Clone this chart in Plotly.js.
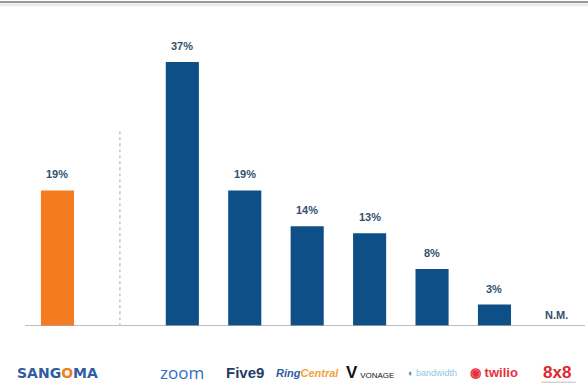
<!DOCTYPE html>
<html>
<head>
<meta charset="utf-8">
<script src="https://cdn.plot.ly/plotly-3.0.1.min.js"></script>
<style>
html,body{margin:0;padding:0;background:#fff;}
#chart{width:588px;height:385px;}
</style>
</head>
<body>
<div id="chart"></div>
<script>
// Data
const companies = ["Sangoma", "Zoom", "Five9", "RingCentral", "Vonage", "Bandwidth", "Twilio", "8x8"];
const positions = [0, 2, 3, 4, 5, 6, 7, 8];
const growth = [19, 37, 19, 14, 13, 8, 3, 0];
const valueLabels = ["19%", "37%", "19%", "14%", "13%", "8%", "3%", "N.M."];
const logoTexts = [
  "<b>SANG<span style='color:#f47b20'>O</span>MA</b>",
  "zoom",
  "<b>Five9</b>",
  "<b><i>Ring<span style='color:#f2a23a'>Central</span></i></b>",
  "<b><span style='font-size:17px'>V</span></b> <span style='font-size:8px'>VONAGE</span>",
  "<span style='color:#2a8fd0'>◐</span> bandwidth",
  "<b>◉ twilio</b>",
  "<b>8x8</b>"
];
const logoColors = ["#2f5d9e", "#2f6fc4", "#1f3b66", "#2f5d9e", "#111111", "#8fc6e8", "#e8303f", "#e0262e"];
const logoSizes = [14, 17, 15, 11, 10, 9, 13, 17];
const logoFonts = ["DejaVu Sans", "Open Sans", "Liberation Sans", "Liberation Sans", "Liberation Sans", "Liberation Sans", "Liberation Sans", "Liberation Sans"];

const barColors = companies.map((c, i) => i === 0 ? "#f47b20" : "#0d4f86");

const annotations = [];
positions.forEach((p, i) => {
  annotations.push({
    x: p, y: growth[i], xref: "x", yref: "y",
    text: "<b>" + valueLabels[i] + "</b>",
    showarrow: false, yanchor: "bottom", yshift: i === 7 ? 3 : 8,
    font: {family: "Liberation Sans", size: 11, color: "#34506f"}
  });
  annotations.push({
    x: p, y: -0.145, xref: "x", yref: "paper",
    text: logoTexts[i], showarrow: false, yanchor: "middle",
    font: {family: logoFonts[i], size: logoSizes[i], color: logoColors[i]}
  });
});

const trace = {
  type: "bar",
  x: positions,
  y: growth,
  width: 0.53,
  marker: {color: barColors},
  hoverinfo: "skip"
};

const layout = {
  width: 588, height: 385,
  margin: {l: 25, r: 3, t: 5, b: 59},
  paper_bgcolor: "#ffffff",
  plot_bgcolor: "#ffffff",
  showlegend: false,
  xaxis: {range: [-0.52, 8.45], showgrid: false, zeroline: false, showticklabels: false, ticks: "", showline: false, fixedrange: true},
  yaxis: {range: [0, 45], showgrid: false, zeroline: false, showticklabels: false, ticks: "", showline: false, fixedrange: true},
  annotations: annotations,
  shapes: [
    {type: "line", xref: "paper", yref: "y", x0: 0, x1: 1, y0: 0, y1: 0, line: {color: "#a8a8a8", width: 1.5}},
    {type: "line", xref: "x", yref: "y", x0: 1, x1: 1, y0: 27.3, y1: -4.8, line: {color: "#c4c4c4", width: 1.5, dash: "dot"}},
    {type: "line", xref: "paper", yref: "paper", x0: -0.05, x1: 1.05, y0: 1.0095, y1: 1.0095, line: {color: "#9a9a9a", width: 2}},
    {type: "line", xref: "paper", yref: "paper", x0: -0.05, x1: 1.05, y0: 1.001, y1: 1.001, line: {color: "#ececec", width: 3}},
    {type: "line", xref: "x", yref: "paper", x0: 7.75, x1: 8.3, y0: -0.175, y1: -0.175, line: {color: "#bbbbbb", width: 1}}
  ]
};

Plotly.newPlot("chart", [trace], layout, {displayModeBar: false, staticPlot: true});
</script>
</body>
</html>
